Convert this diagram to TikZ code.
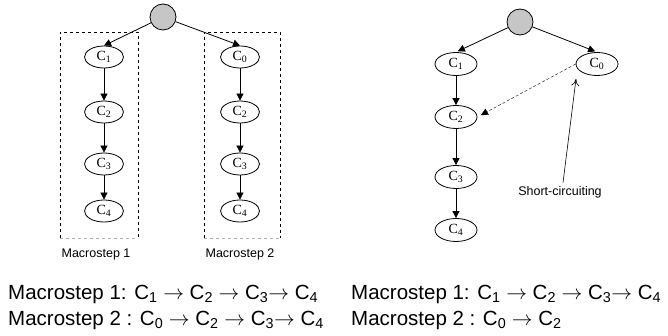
\documentclass[tikz,border=0pt]{standalone}
\usepackage{fontspec}
\setmainfont{Liberation Sans}
\newfontfamily\serifc{Liberation Serif}
\usetikzlibrary{positioning,arrows.meta,shapes.geometric}

\newcommand{\cn}[1]{C\textsubscript{#1}}
\newcommand{\ra}{$\rightarrow$}

\begin{document}
\begin{tikzpicture}[
  x=1pt, y=-1pt,
  >={Triangle[length=7pt,width=7pt]},
  root/.style={draw, line width=0.8pt, circle, fill=gray!45, minimum size=26pt, inner sep=0pt},
  cnode/.style={draw, line width=0.8pt, ellipse, minimum width=39pt, minimum height=22pt, inner sep=0pt, font=\serifc\fontsize{14}{14}\selectfont},
  bignode/.style={cnode, minimum width=42pt, minimum height=23pt},
  flow/.style={->, line width=0.8pt},
  short/.style={->, densely dashed, thin},
  group/.style={draw, dashed, thick},
  lbl/.style={font=\fontsize{12.5}{14}\selectfont},
  seqtext/.style={anchor=base west, inner sep=0pt, font=\fontsize{20.5}{24}\selectfont}
]
\useasboundingbox (0,0) rectangle (668,336);

% Left: two macrosteps in dashed boxes
\node[root] (rootA) at (163,17) {};
\node[cnode] (a1) at (104,57) {\cn{1}};
\node[cnode] (a2) at (104,112) {\cn{2}};
\node[cnode] (a3) at (104,164) {\cn{3}};
\node[cnode] (a4) at (104,211) {\cn{4}};
\node[cnode] (b0) at (240,57) {\cn{0}};
\node[cnode] (b2) at (240,112) {\cn{2}};
\node[cnode] (b3) at (240,164) {\cn{3}};
\node[cnode] (b4) at (240,211) {\cn{4}};

\draw[flow] (rootA) -- (a1.north);
\draw[flow] (rootA) -- (b0.north);
\draw[flow] (a1) -- (a2);
\draw[flow] (a2) -- (a3);
\draw[flow] (a3) -- (a4);
\draw[flow] (b0) -- (b2);
\draw[flow] (b2) -- (b3);
\draw[flow] (b3) -- (b4);

% dashed boxes (bottom edge is lighter)
\draw[group] (60,238) -- (60,32) -- (138,32) -- (138,238);
\draw[gray!60, thin, dashed] (60,238) -- (138,238);
\draw[group] (204,238) -- (204,32) -- (280,32) -- (280,238);
\draw[gray!60, thin, dashed] (204,238) -- (280,238);

\node[lbl] (stepA) at (96,254) {Macrostep 1};
\node[lbl] (stepB) at (240,254) {Macrostep 2};

% Right: short-circuiting
\node[root] (rootB) at (520,22) {};
\node[bignode] (c1) at (456,64) {\cn{1}};
\node[bignode] (c0) at (597,64) {\cn{0}};
\node[bignode] (c2) at (456,117) {\cn{2}};
\node[bignode] (c3) at (456,177) {\cn{3}};
\node[bignode] (c4) at (456,230) {\cn{4}};

\draw[flow, shorten >=2pt] (rootB) -- (c1.north);
\draw[flow, shorten >=2pt] (rootB) -- (c0.north);
\draw[flow] (c1) -- (c2);
\draw[flow] (c2) -- (c3);
\draw[flow] (c3) -- (c4);
\draw[short, shorten >=4pt] (c0.west) -- (c2.east);

\node[lbl] (scut) at (560,192) {Short-circuiting};
\coordinate (scTip) at (576,79);
\draw[-{To[length=7pt,width=8pt]}, semithick] ([xshift=3pt]scut.north) -- (scTip);

% Sequences
\node[seqtext] (seqA1) at (8,299) {Macrostep 1: \cn{1} \ra{} \cn{2} \ra{} \cn{3}\ra{} \cn{4}};
\node[seqtext] (seqA2) at (8,325) {Macrostep 2 : \cn{0} \ra{} \cn{2} \ra{} \cn{3}\ra{} \cn{4}};
\node[seqtext] (seqB1) at (351,299) {Macrostep 1: \cn{1} \ra{} \cn{2} \ra{} \cn{3}\ra{} \cn{4}};
\node[seqtext] (seqB2) at (351,325) {Macrostep 2 : \cn{0} \ra{} \cn{2}};

\end{tikzpicture}
\end{document}
